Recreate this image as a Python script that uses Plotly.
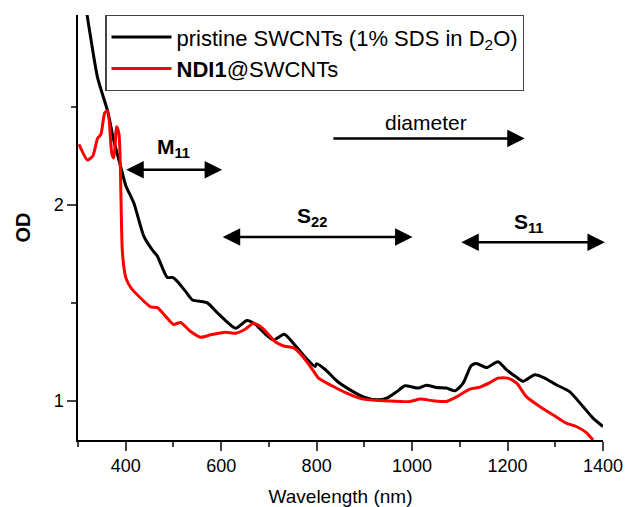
import plotly.graph_objects as go

# Pristine SWCNTs (black)
wl_pristine = [300, 319, 341, 362, 375, 389, 400, 417, 438, 456, 466, 487, 498, 508, 525, 540, 560, 571,
               592, 609, 630, 654, 672, 693, 710, 732, 756, 777, 797, 800, 818, 843, 870, 898, 926, 947,
               968, 985, 1013, 1030, 1051, 1072, 1090, 1107, 1124, 1135, 1156, 1180, 1198, 1219, 1233,
               1257, 1278, 1302, 1330, 1358, 1379, 1400]
od_pristine = [3.25, 2.97, 2.65, 2.48, 2.33, 2.20, 2.10, 2.01, 1.84, 1.77, 1.74, 1.63, 1.63, 1.61, 1.56, 1.515,
               1.507, 1.50, 1.45, 1.41, 1.37, 1.41, 1.39, 1.34, 1.31, 1.34, 1.28, 1.22, 1.175, 1.19, 1.16,
               1.10, 1.056, 1.02, 1.005, 1.014, 1.047, 1.077, 1.065, 1.08, 1.068, 1.065, 1.051, 1.09, 1.18,
               1.19, 1.17, 1.20, 1.158, 1.12, 1.10, 1.133, 1.116, 1.082, 1.047, 0.971, 0.912, 0.869]

# NDI1@SWCNTs (red)
wl_ndi = [302, 320, 331, 341, 348, 356, 362, 371, 375, 381, 386, 393, 400, 410, 431, 452, 467, 484, 500,
          515, 536, 557, 578, 609, 630, 651, 668, 687, 714, 731, 752, 773, 794, 804, 835, 863, 895, 940,
          996, 1017, 1045, 1072, 1093, 1121, 1142, 1163, 1180, 1201, 1219, 1240, 1268, 1295, 1323, 1344,
          1365, 1379]
od_ndi = [2.31, 2.23, 2.25, 2.34, 2.36, 2.47, 2.48, 2.26, 2.24, 2.40, 2.36, 1.76, 1.63, 1.58, 1.525, 1.48,
          1.475, 1.43, 1.39, 1.40, 1.354, 1.325, 1.337, 1.35, 1.345, 1.367, 1.396, 1.37, 1.30, 1.28, 1.27,
          1.22, 1.15, 1.116, 1.073, 1.039, 1.01, 1.0, 0.997, 1.009, 1.0, 0.997, 1.02, 1.06, 1.07, 1.093,
          1.116, 1.116, 1.09, 1.02, 0.97, 0.929, 0.886, 0.869, 0.838, 0.80]

series_names = ["pristine SWCNTs (1% SDS in D<sub>2</sub>O)", "<b>NDI1</b>@SWCNTs"]

FONT = "Liberation Sans, Arial, sans-serif"

fig = go.Figure()
fig.add_trace(go.Scatter(x=wl_pristine, y=od_pristine, mode="lines", name=series_names[0],
                         line=dict(color="black", width=3, shape="spline", smoothing=0.6)))
fig.add_trace(go.Scatter(x=wl_ndi, y=od_ndi, mode="lines", name=series_names[1],
                         line=dict(color="#ff0000", width=3, shape="spline", smoothing=0.6)))

# arrows: (x_start, x_end, y, both ends)
arrows = [
    (398, 602, 2.18, True),
    (600, 1001, 1.837, True),
    (1100, 1404, 1.81, True),
    (832, 1236, 2.34, False),
]
for x0, x1, yy, both in arrows:
    fig.add_annotation(x=x1, y=yy, ax=x0, ay=yy, xref="x", yref="y", axref="x", ayref="y",
                       text="", showarrow=True, arrowhead=2, arrowsize=1.4, arrowwidth=2.5,
                       arrowside="end+start" if both else "end", arrowcolor="black",
                       startarrowhead=2, startarrowsize=1.4)

labels = [
    (500, 2.29, "<b>M<sub>11</sub></b>"),
    (790, 1.94, "<b>S<sub>22</sub></b>"),
    (1245, 1.91, "<b>S<sub>11</sub></b>"),
    (1030, 2.42, "diameter"),
]
for lx, ly, txt in labels:
    fig.add_annotation(x=lx, y=ly, xref="x", yref="y", text=txt, showarrow=False,
                       font=dict(family=FONT, size=21, color="black"))

fig.update_layout(
    width=626, height=507,
    margin=dict(l=78, r=23, t=15, b=67),
    paper_bgcolor="white", plot_bgcolor="white",
    font=dict(family=FONT, size=18, color="black"),
    showlegend=True,
    legend=dict(x=0.052, y=1.0, xanchor="left", yanchor="top",
                bordercolor="#444", borderwidth=1.2, bgcolor="white",
                font=dict(family=FONT, size=22), tracegroupgap=0, itemwidth=60),
)
fig.update_xaxes(range=[300, 1400], tickvals=[400, 600, 800, 1000, 1200, 1400], automargin=False,
                 ticks="outside", ticklen=9, tickwidth=1.5, showline=True, linecolor="black",
                 linewidth=1.5, showgrid=False, zeroline=False,
                 minor=dict(ticks="outside", ticklen=5, tickwidth=1.5, dtick=100, tick0=300, showgrid=False),
                 title=dict(text="Wavelength (nm)", font=dict(size=19), standoff=14),
                 tickfont=dict(size=18))
fig.update_yaxes(range=[0.8, 2.97], tickvals=[1, 2], automargin=False,
                 ticks="outside", ticklen=9, tickwidth=1.5, showline=True, linecolor="black",
                 linewidth=1.5, showgrid=False, zeroline=False,
                 minor=dict(ticks="outside", ticklen=5, tickwidth=1.5, tickvals=[1.5, 2.5], showgrid=False),
                 title=dict(text="<b>OD</b>", font=dict(size=20), standoff=18),
                 tickfont=dict(size=18))

fig.write_html("out.html", config={"displayModeBar": False},
               post_script="document.body.style.margin='0';document.body.style.overflow='hidden';")
